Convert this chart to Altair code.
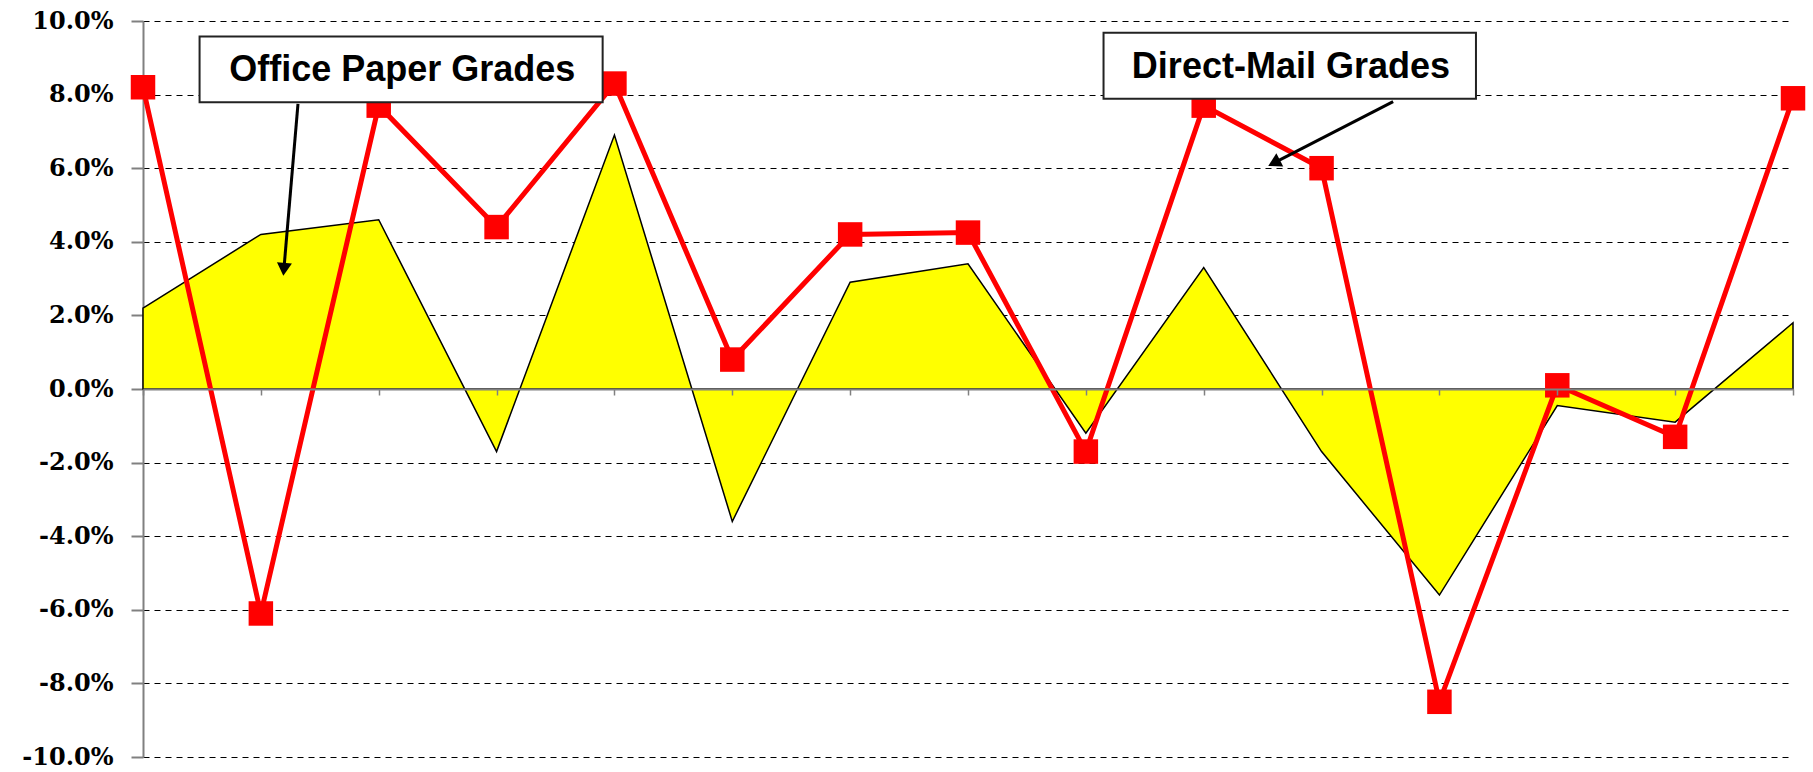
import math
import altair as alt
import pandas as pd

# ---- data ----
period = list(range(15))
office_paper = [2.2, 4.2, 4.6, -1.7, 6.9, -3.6, 2.9, 3.4, -1.2, 3.3, -1.7, -5.6, -0.45, -0.9, 1.8]
direct_mail = [8.2, -6.1, 7.7, 4.4, 8.3, 0.8, 4.2, 4.25, -1.7, 7.7, 6.0, -8.5, 0.1, -1.3, 7.9]
y_ticks = [-10, -8, -6, -4, -2, 0, 2, 4, 6, 8, 10]

# annotations (data units)
ann_label = ["Office Paper Grades", "Direct-Mail Grades"]
box_x1 = [0.48, 8.15]
box_x2 = [3.90, 11.31]
box_y1 = [9.58, 9.68]
box_y2 = [7.79, 7.89]
text_x = [2.20, 9.74]
text_y = [8.66, 8.74]
arrow_x1 = [1.315, 10.607]
arrow_y1 = [7.75, 7.81]
arrow_x2 = [1.19, 9.54]
arrow_y2 = [3.05, 6.05]

W, H = 1650, 736
XMAX = 14
YMIN, YMAX = -10, 10
px_x = W / XMAX
px_y = H / (YMAX - YMIN)
HEAD = 225
r = math.sqrt(HEAD) / 2

heads = []
for i in range(2):
    dx = (arrow_x2[i] - arrow_x1[i]) * px_x
    dy = -(arrow_y2[i] - arrow_y1[i]) * px_y
    L = math.hypot(dx, dy)
    ux, uy = dx / L, dy / L
    cx = arrow_x2[i] - ux * r / px_x
    cy = arrow_y2[i] + uy * r / px_y
    ang = math.degrees(math.atan2(dx, -dy)) % 360
    heads.append({"hx": cx, "hy": cy, "angle": ang})

df = pd.DataFrame({"period": period, "office": office_paper, "direct": direct_mail})
ann = pd.DataFrame({
    "label": ann_label, "bx1": box_x1, "bx2": box_x2, "by1": box_y1, "by2": box_y2,
    "tx": text_x, "ty": text_y, "ax1": arrow_x1, "ay1": arrow_y1,
    "ax2": [h["hx"] for h in heads], "ay2": [h["hy"] for h in heads],
    "hx": [h["hx"] for h in heads], "hy": [h["hy"] for h in heads],
    "angle": [h["angle"] for h in heads],
})

xscale = alt.Scale(domain=[0, XMAX], nice=False, zero=False)
yscale = alt.Scale(domain=[YMIN, YMAX], nice=False)

x_enc = alt.X("period:Q", scale=xscale, axis=alt.Axis(
    values=period, labels=False, title=None, domainColor="#808080", domainWidth=2,
    tickColor="#808080", tickWidth=1.5, tickSize=6, grid=False,
    offset=-H / 2, zindex=1))

y_axis = alt.Axis(
    values=y_ticks, title=None,
    labelExpr="(datum.value < 0 ? '-' : '') + format(abs(datum.value), '.1f') + '%'",
    labelFont="DejaVu Serif", labelFontWeight="bold", labelFontSize=24, labelColor="black",
    labelPadding=18, tickSize=12, tickColor="#808080", tickWidth=2,
    domainColor="#808080", domainWidth=2,
    grid=True, gridColor="black", gridDash=[6, 5], gridWidth=1.2)

base = alt.Chart(df)

area = base.mark_area(color="#FFFF00", stroke="black", strokeWidth=1.5, opacity=1).encode(
    x=x_enc,
    y=alt.Y("office:Q", scale=yscale, axis=y_axis),
    y2=alt.datum(0),
)

line = base.mark_line(color="#FF0000", strokeWidth=5).encode(
    x=alt.X("period:Q", scale=xscale),
    y=alt.Y("direct:Q", scale=yscale),
)
pts = base.mark_point(shape="square", filled=True, color="#FF0000", size=600, opacity=1).encode(
    x=alt.X("period:Q", scale=xscale),
    y=alt.Y("direct:Q", scale=yscale),
)

abase = alt.Chart(ann)
boxes = abase.mark_rect(fill="white", stroke="#222222", strokeWidth=2).encode(
    x=alt.X("bx1:Q", scale=xscale), x2="bx2:Q",
    y=alt.Y("by1:Q", scale=yscale), y2="by2:Q",
)
texts = abase.mark_text(font="Liberation Sans", fontWeight="bold", fontSize=36,
                        color="black", align="center", baseline="middle").encode(
    x=alt.X("tx:Q", scale=xscale), y=alt.Y("ty:Q", scale=yscale), text="label:N",
)
arrows = abase.mark_rule(color="black", strokeWidth=3).encode(
    x=alt.X("ax1:Q", scale=xscale), x2="ax2:Q",
    y=alt.Y("ay1:Q", scale=yscale), y2="ay2:Q",
)
heads_m = abase.mark_point(shape="triangle-up", filled=True, color="black", size=HEAD, opacity=1).encode(
    x=alt.X("hx:Q", scale=xscale), y=alt.Y("hy:Q", scale=yscale),
    angle=alt.Angle("angle:Q", scale=None),
)

chart = alt.layer(area, line, pts, boxes, texts, arrows, heads_m).properties(
    width=W, height=H,
    autosize=alt.AutoSizeParams(type="none"),
    padding={"left": 143, "top": 21, "right": 20, "bottom": 15},
    background="white",
).configure_view(stroke=None)

chart.save("out.html", embed_options={"renderer": "svg", "actions": False})
